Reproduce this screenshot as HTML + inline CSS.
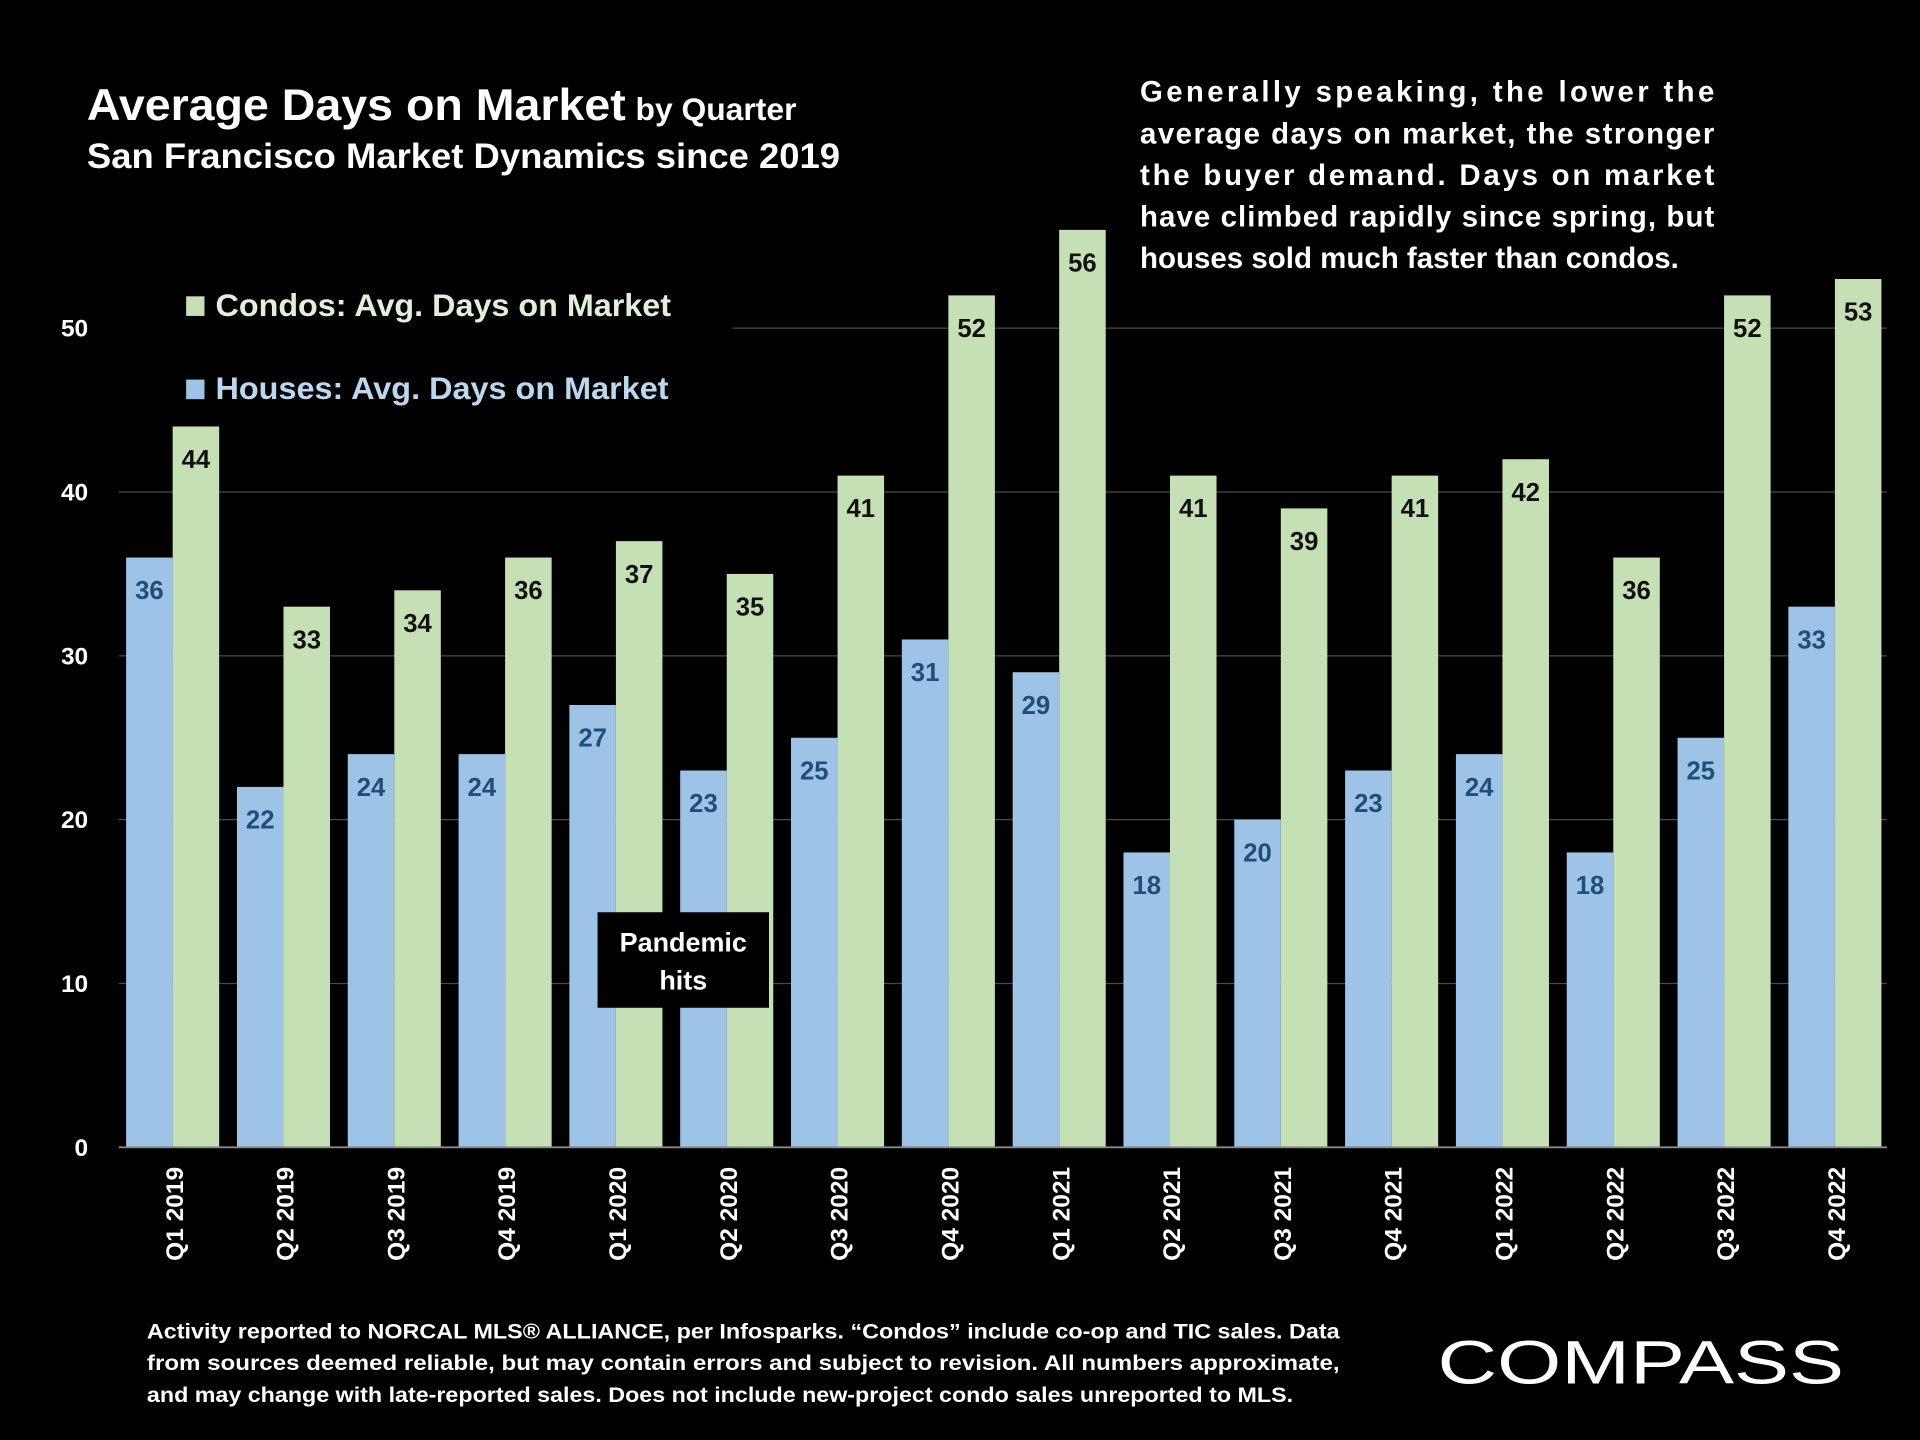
<!DOCTYPE html>
<html><head><meta charset="utf-8"><style>
html,body{margin:0;padding:0;background:#000;}
svg{display:block;font-family:"Liberation Sans",sans-serif;font-weight:bold;}
</style></head><body>
<svg id="chart" width="1920" height="1440" viewBox="0 0 1568 1176">
<rect x="0" y="0" width="1568" height="1176" fill="#000"/>
<g id="grid"></g>
<g id="bars"></g>
<g id="axes"></g>
<rect x="97" y="222" width="501" height="122" fill="#000"/>
<rect x="152" y="242" width="15" height="16" fill="#c5e0b4"/>
<text x="176" y="258" font-size="26" fill="#e2efd9" textLength="372" lengthAdjust="spacingAndGlyphs">Condos: Avg. Days on Market</text>
<rect x="152" y="310" width="15" height="16" fill="#9dc3e6"/>
<text x="176" y="326" font-size="26" fill="#bdd7ee" textLength="370" lengthAdjust="spacingAndGlyphs">Houses: Avg. Days on Market</text>
<text x="71" y="98" font-size="36" fill="#fff"><tspan textLength="440" lengthAdjust="spacingAndGlyphs">Average Days on Market</tspan><tspan font-size="26" dx="8">by Quarter</tspan></text>
<text x="71" y="137" font-size="29" fill="#fff" textLength="615" lengthAdjust="spacingAndGlyphs">San Francisco Market Dynamics since 2019</text>
<g font-size="24" fill="#fff">
<text x="931" y="83" textLength="469" lengthAdjust="spacing">Generally speaking, the lower the</text>
<text x="931" y="117" textLength="469" lengthAdjust="spacing">average days on market, the stronger</text>
<text x="931" y="151" textLength="469" lengthAdjust="spacing">the buyer demand. Days on market</text>
<text x="931" y="185" textLength="469" lengthAdjust="spacing">have climbed rapidly since spring, but</text>
<text x="931" y="219" textLength="440" lengthAdjust="spacingAndGlyphs">houses sold much faster than condos.</text>
</g>
<rect x="488" y="745" width="140" height="78" fill="#000"/>
<text x="558" y="777" font-size="22" fill="#fff" text-anchor="middle">Pandemic</text>
<text x="558" y="808" font-size="22" fill="#fff" text-anchor="middle">hits</text>
<g font-size="17.5" fill="#fff">
<text x="120" y="1093" textLength="974" lengthAdjust="spacingAndGlyphs">Activity reported to NORCAL MLS® ALLIANCE, per Infosparks. “Condos” include co-op and TIC sales. Data</text>
<text x="120" y="1119" textLength="974" lengthAdjust="spacingAndGlyphs">from sources deemed reliable, but may contain errors and subject to revision. All numbers approximate,</text>
<text x="120" y="1145" textLength="936" lengthAdjust="spacingAndGlyphs">and may change with late-reported sales. Does not include new-project condo sales unreported to MLS.</text>
</g>
<text x="1174" y="1130" font-size="50" font-weight="normal" fill="#fff" textLength="332" lengthAdjust="spacingAndGlyphs">COMPASS</text>
</svg>
<script>
const categories=["Q1 2019","Q2 2019","Q3 2019","Q4 2019","Q1 2020","Q2 2020","Q3 2020","Q4 2020","Q1 2021","Q2 2021","Q3 2021","Q4 2021","Q1 2022","Q2 2022","Q3 2022","Q4 2022"];
const houses=[36,22,24,24,27,23,25,31,29,18,20,23,24,18,25,33];
const condos=[44,33,34,36,37,35,41,52,56,41,39,41,42,36,52,53];
const yTicks=[0,10,20,30,40,50];
const NS="http://www.w3.org/2000/svg";
const X0=97,X1=1545,Y0=937,PPU=(937-268)/50;
const gw=(X1-X0)/categories.length;
const y=v=>Y0-v*PPU;
const gx=i=>X0+i*gw;
function mk(tag,attrs,parent,txt){const e=document.createElementNS(NS,tag);for(const k in attrs)e.setAttribute(k,attrs[k]);if(txt!==undefined)e.textContent=txt;document.getElementById(parent).appendChild(e);return e;}
yTicks.forEach(t=>{
  if(t>0){const l=mk('line',{x1:X0,x2:1541,y1:y(t),y2:y(t),stroke:'#4a4a4a','stroke-width':1},'grid');
  
  }
  const tx=mk('text',{x:72,y:y(t)+7,'font-size':20,fill:'#fff','text-anchor':'end'},'axes',t);
  
  
});
const ax=mk('line',{x1:X0,x2:1541,y1:Y0,y2:Y0,stroke:'#888','stroke-width':1.5},'axes');


const bw=38;
categories.forEach((c,i)=>{
  const hx=gx(i)+6, cx=hx+bw;
  const hb=mk('rect',{x:hx,y:y(houses[i]),width:bw,height:houses[i]*PPU,fill:'#9dc3e6'},'bars');
  
  
  const cb=mk('rect',{x:cx,y:y(condos[i]),width:bw,height:condos[i]*PPU,fill:'#c5e0b4'},'bars');
  
  
  const hl=mk('text',{x:hx+bw/2,y:y(houses[i])+34,'font-size':21,fill:'#1f4e79','text-anchor':'middle'},'bars',houses[i]);
  
  
  const cl=mk('text',{x:cx+bw/2,y:y(condos[i])+34,'font-size':21,fill:'#111','text-anchor':'middle'},'bars',condos[i]);
  
  
  const mx=gx(i)+gw/2+7;
  const xl=mk('text',{x:0,y:0,'font-size':20,fill:'#fff','text-anchor':'end',transform:`translate(${mx},953) rotate(-90)`},'axes',c);
  
  
});
</script>
</body></html>
